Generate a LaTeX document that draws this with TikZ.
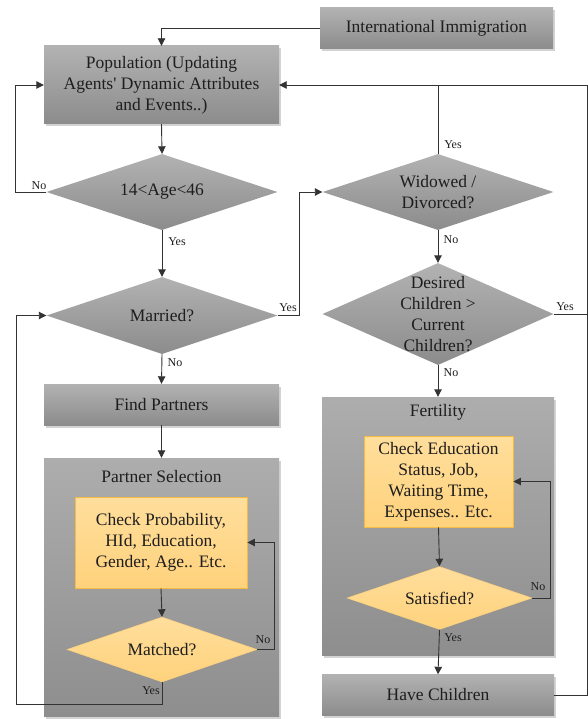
\documentclass[tikz,border=0pt]{standalone}
\usepackage{fontspec}
\setmainfont{Liberation Serif}
\newfontfamily\tnr{Liberation Serif}
\usetikzlibrary{shapes.geometric,arrows.meta,shadows}
\definecolor{boxtop}{HTML}{B2B2B2}
\definecolor{boxbot}{HTML}{8C8C8C}
\definecolor{ctop}{HTML}{ADADAD}
\definecolor{cbot}{HTML}{8E8E8E}
\definecolor{otop}{HTML}{FFDE9C}
\definecolor{obot}{HTML}{FFD27C}
\definecolor{oline}{HTML}{F5BA45}
\definecolor{linec}{HTML}{333333}
\definecolor{txt}{HTML}{1E1E1E}
\tikzset{
  shad/.style={drop shadow={opacity=0.35,shadow xshift=1.5pt,shadow yshift=-2.5pt}},
  big/.style={font=\tnr\fontsize{17.5}{21}\selectfont,text=txt,align=center},
  gbox/.style={rectangle,inner sep=0pt,top color=boxtop,bottom color=boxbot,shad,big},
  gdia/.style={diamond,inner sep=0pt,top color=boxtop,bottom color=boxbot},
  cont/.style={rectangle,inner sep=0pt,top color=ctop,bottom color=cbot,shad},
  obox/.style={rectangle,inner sep=0pt,draw=oline,line width=0.9pt,top color=otop,bottom color=obot,big},
  odia/.style={diamond,inner sep=0pt,draw=oline!70,line width=0.5pt,top color=otop,bottom color=obot},
  dtext/.style={big,inner sep=0pt},
  ttl/.style={font=\tnr\fontsize{17.5}{20}\selectfont,text=txt,inner sep=0pt},
  conn/.style={draw=linec,line width=0.9pt},
  arr/.style={conn,-{Triangle[length=7.5pt,width=7.5pt]}},
  lab/.style={font=\tnr\fontsize{12}{12}\selectfont,text=txt,inner sep=0pt}
}
\begin{document}
\begin{tikzpicture}[x=1pt,y=-1pt]
\useasboundingbox (0,0) rectangle (588,719);
% containers
\node[cont,minimum width=235pt,minimum height=258pt] (psel) at (161.5,587) {};
\node[ttl] (pseltitle) at (161.5,477) {Partner Selection};
\node[cont,minimum width=232pt,minimum height=258pt] (fert) at (438,526) {};
\node[ttl] (ferttitle) at (438,412) {Fertility};
% boxes
\node[gbox,minimum width=233pt,minimum height=41pt] (imm) at (436.5,28.5) {International Immigration};
\node[gbox,minimum width=235pt,minimum height=78pt] (pop) at (161.5,85) {Population (Updating\\Agents' Dynamic Attributes\\and Events..)};
\node[gbox,minimum width=235pt,minimum height=41pt] (find) at (161.5,404.5) {Find Partners};
\node[gbox,minimum width=232pt,minimum height=41pt] (have) at (438,695) {Have Children};
% grey diamonds
\node[gdia,minimum width=231pt,minimum height=76pt] (age) at (162,192) {};
\node[dtext] (agetext) at (age.center) {14<Age<46};
\node[gdia,minimum width=231pt,minimum height=77pt] (mar) at (162,315.5) {};
\node[dtext] (martext) at (mar.center) {Married?};
\node[gdia,minimum width=231pt,minimum height=76pt] (wid) at (438,192) {};
\node[dtext] (widtext) at (wid.center) {Widowed /\\Divorced?};
\node[gdia,minimum width=231pt,minimum height=102pt] (des) at (438,314) {};
\node[dtext] (destext) at (des.center) {Desired\\Children >\\Current\\Children?};
% orange
\node[obox,minimum width=172pt,minimum height=91pt] (prob) at (161,542.5) {Check Probability,\\HId, Education,\\Gender, Age.. Etc.};
\node[odia,minimum width=190pt,minimum height=65pt] (mat) at (162,649.5) {};
\node[dtext] (mattext) at (mat.center) {Matched?};
\node[obox,minimum width=149pt,minimum height=91pt] (edu) at (438.5,481.5) {Check Education\\Status, Job,\\Waiting Time,\\Expenses.. Etc.};
\node[odia,minimum width=185pt,minimum height=63pt] (sat) at (439.5,598) {};
\node[dtext] (sattext) at (sat.center) {Satisfied?};
% helper coordinates
\coordinate (rx) at (587,0);
\coordinate (lb) at (16,704);
% connectors
\draw[arr] (imm.west) -| (pop.north);
\draw[arr] (pop.south) -- (age.north);
\draw[arr] (age.west) -- ++(-31,0) |- (pop.west);
\draw[arr] (age.south) -- (mar.north);
\draw[arr] (mar.east) -- ++(22,0) |- (wid.west);
\draw[conn] (wid.north) -- (wid.north |- pop.east);
\draw[arr] (wid.south) -- (des.north);
\draw[conn] (des.east) -- (des.east -| rx);
\draw[arr] (have.east) -- (have.east -| rx) |- (pop.east);
\draw[arr] (des.south) -- (fert.north);
\draw[arr] (mar.south) -- (find.north);
\draw[arr] (find.south) -- (psel.north);
\draw[arr] (prob.south) -- (mat.north);
\draw[arr] (mat.east) -- ++(17,0) |- (prob.east);
\draw[arr] (mat.south) |- (lb) |- (mar.west);
\draw[arr] (edu.south) -- (sat.north);
\draw[arr] (sat.east) -- ++(18,0) |- (edu.east);
\draw[arr] (sat.south) -- (have.north);
% labels
\node[lab] (l1) at (39,186) {No};
\node[lab] (l2) at (177,242) {Yes};
\node[lab] (l3) at (288,308) {Yes};
\node[lab] (l4) at (453,145) {Yes};
\node[lab] (l5) at (451,240) {No};
\node[lab] (l6) at (565,307) {Yes};
\node[lab] (l7) at (175,363) {No};
\node[lab] (l8) at (451,373) {No};
\node[lab] (l9) at (263,640) {No};
\node[lab] (l10) at (151,691) {Yes};
\node[lab] (l11) at (538,587) {No};
\node[lab] (l12) at (453,638) {Yes};
\end{tikzpicture}
\end{document}
